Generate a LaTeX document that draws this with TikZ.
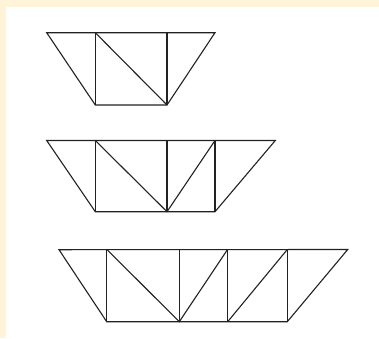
\documentclass[tikz,border=0pt]{standalone}
\definecolor{cream}{HTML}{FFF4DA}
\definecolor{ink}{HTML}{222222}
\begin{document}
\begin{tikzpicture}[x=1pt,y=-1pt,truss/.style={draw=ink,line width=1.1pt,line join=miter}]
\useasboundingbox (0,0) rectangle (379,338);
\fill[cream] (0,0) rectangle (379,338);
\fill[white] (6,6.5) rectangle (379,338);
% figure 1
\coordinate (a1) at (46.7,32.7);
\coordinate (b1) at (95.3,32.7);
\coordinate (c1) at (167,32.7);
\coordinate (d1) at (215,32.7);
\coordinate (e1) at (95.3,105);
\coordinate (f1) at (167,105);
\draw[truss] (a1) -- (d1) -- (f1) -- (e1) -- cycle;
\draw[truss] (b1) -- (e1);
\draw[truss] (c1) -- (f1);
\draw[truss] (b1) -- (f1);
% figure 2
\coordinate (a2) at (46.7,140.5);
\coordinate (b2) at (95.3,140.5);
\coordinate (c2) at (167,140.5);
\coordinate (d2) at (215,140.5);
\coordinate (g2) at (275.3,140.5);
\coordinate (e2) at (95.3,211.7);
\coordinate (f2) at (167,211.7);
\coordinate (h2) at (215,211.7);
\draw[truss] (a2) -- (g2) -- (h2) -- (e2) -- cycle;
\draw[truss] (b2) -- (e2);
\draw[truss] (c2) -- (f2);
\draw[truss] (d2) -- (h2);
\draw[truss] (b2) -- (f2) -- (d2);
% figure 3
\coordinate (a3) at (59,249.7);
\coordinate (b3) at (106.7,249.3);
\coordinate (c3) at (179.3,249.3);
\coordinate (d3) at (227.7,249.3);
\coordinate (g3) at (287.3,249.5);
\coordinate (k3) at (347.7,249.5);
\coordinate (e3) at (106.7,321.7);
\coordinate (f3) at (179.3,321.7);
\coordinate (h3) at (227.7,321.7);
\coordinate (m3) at (287.3,321.7);
\draw[truss] (a3) -- (k3) -- (m3) -- (e3) -- cycle;
\draw[truss] (b3) -- (e3);
\draw[truss] (c3) -- (f3);
\draw[truss] (d3) -- (h3);
\draw[truss] (g3) -- (m3);
\draw[truss] (b3) -- (f3) -- (d3);
\draw[truss] (h3) -- (g3);
\end{tikzpicture}
\end{document}
